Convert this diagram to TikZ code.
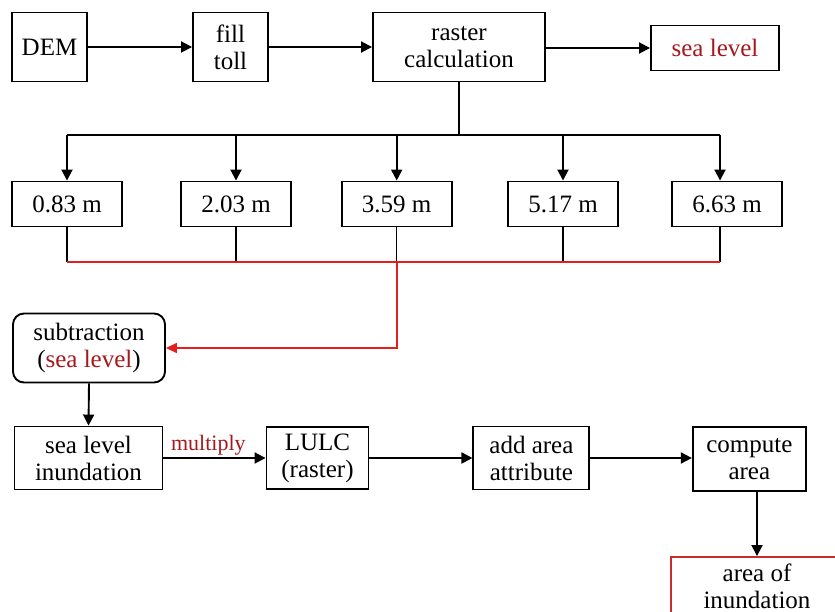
\documentclass[tikz,border=0pt]{standalone}
\usepackage{fontspec}
\setmainfont{Liberation Serif}
\usetikzlibrary{arrows.meta}
\definecolor{txtred}{RGB}{165,25,30}
\definecolor{linered}{RGB}{228,30,30}
\definecolor{boxred}{RGB}{200,45,45}
\begin{document}
\begin{tikzpicture}[x=1pt,y=-1pt,
  box/.style={draw, line width=1.9pt, inner sep=0pt, align=center, font=\fontsize{25}{27}\selectfont},
  arr/.style={line width=1.9pt, -{Triangle[length=11pt,width=11pt]}},
  redarr/.style={line width=1.7pt, draw=linered, -{Triangle[length=11pt,width=10pt]}},
  ln/.style={line width=1.9pt},
  thinln/.style={line width=1.4pt},
  redln/.style={line width=1.8pt, draw=linered}]
\useasboundingbox (0,0) rectangle (835,612);
\clip (0,0) rectangle (835,612);
\fill[white] (0,0) rectangle (835,612);
% top row
\node[box, minimum width=75pt, minimum height=69pt] (dem) at (49.5,47) {DEM};
\node[box, minimum width=75pt, minimum height=69pt] (fill) at (230.5,47) {fill\\toll};
\node[box, minimum width=172pt, minimum height=69pt] (rc) at (459,47) {raster\\calculation};
\node[box, minimum width=128pt, minimum height=45pt, text=txtred] (sl) at (715,48) {sea level};
\draw[arr] (dem) -- (fill);
\draw[arr] (fill) -- (rc);
\draw[arr] (rc.east |- sl.west) -- (sl.west);
% level boxes
\node[box, minimum width=110pt, minimum height=45pt] (b1) at (67,204) {0.83 m};
\node[box, minimum width=110pt, minimum height=45pt] (b2) at (236,204) {2.03 m};
\node[box, minimum width=110pt, minimum height=45pt] (b3) at (396.7,204) {3.59 m};
\node[box, minimum width=110pt, minimum height=45pt] (b4) at (563,204) {5.17 m};
\node[box, minimum width=110pt, minimum height=45pt] (b5) at (727,204) {6.63 m};
\coordinate (busL) at (67,135);
\coordinate (busR) at (720,135);
\draw[ln] (rc.south) -- (rc.south |- busL);
\draw[ln] (busL) -- (busR);
\draw[arr] (busL) -- (b1.north);
\draw[arr] (b2.north |- busL) -- (b2.north);
\draw[arr] (b3.north |- busL) -- (b3.north);
\draw[arr] (b4.north |- busL) -- (b4.north);
\draw[arr] (busR) -- (busR |- b5.north);
% red collector
\coordinate (rbL) at (67,261.7);
\coordinate (rbR) at (720,261.7);
\draw[thinln] (b1.south) -- (b1.south |- rbL);
\draw[thinln] (b2.south) -- (b2.south |- rbL);
\draw[thinln] (b3.south) -- (b3.south |- rbL);
\draw[thinln] (b4.south) -- (b4.south |- rbL);
\draw[thinln] (busR |- b5.south) -- (rbR);
\draw[redln] (rbL) -- (rbR);
% subtraction
\node[box, rounded corners=11pt, minimum width=152pt, minimum height=69pt] (sub) at (89,348) {subtraction\\(\textcolor{txtred}{sea level})};
\draw[redarr] (b3.south |- rbL) |- (sub.east);
% bottom row
\node[box, minimum width=148pt, minimum height=63pt] (sli) at (88.5,458) {sea level\\inundation};
\node[box, minimum width=102pt, minimum height=62pt] (lulc) at (317.5,458) {LULC\\(raster)};
\node[box, minimum width=116pt, minimum height=63pt] (add) at (531.4,458) {add area\\attribute};
\node[box, minimum width=113pt, minimum height=64pt] (comp) at (749.3,459) {compute\\area};
\node[box, draw=boxred, minimum width=172pt, minimum height=58pt] (aoi) at (757,586) {area of\\inundation};
\draw[arr] (sub.south) -- (sli.north);
\draw[arr] (sli) -- node[pos=0.44, above, inner sep=1.5pt, text=txtred, font=\fontsize{22}{24}\selectfont] {multiply} (lulc);
\draw[arr] (lulc) -- (add);
\draw[arr] (add) -- (add -| comp.west);
\draw[arr] (comp.south -| aoi.north) -- (aoi.north);
\end{tikzpicture}
\end{document}
